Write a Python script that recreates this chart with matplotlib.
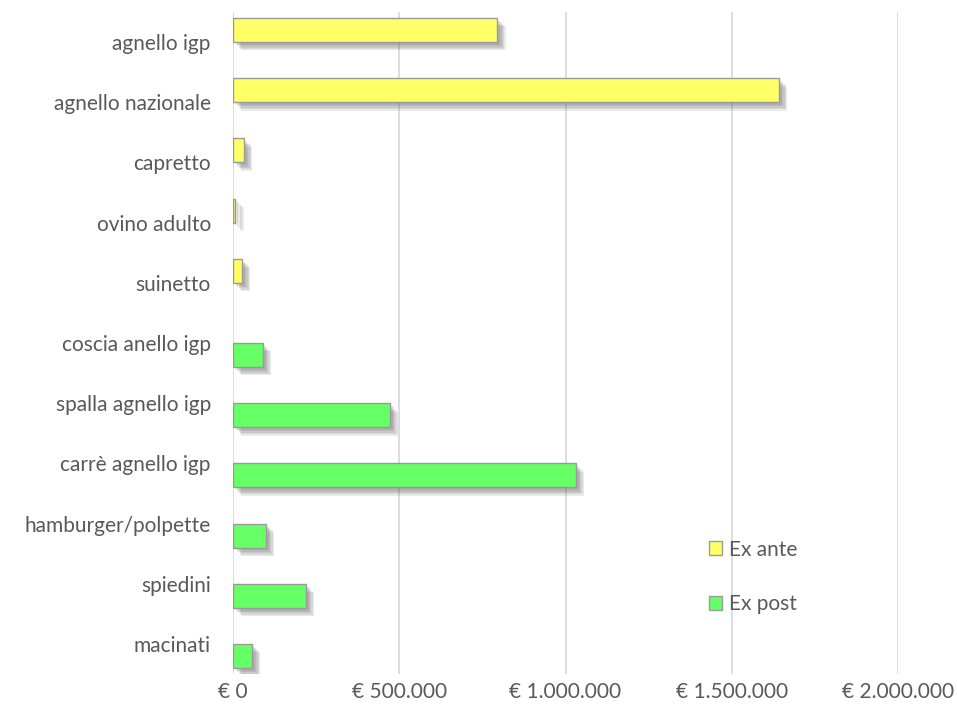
import numpy as np
import matplotlib
matplotlib.use("Agg")
import matplotlib.pyplot as plt
import matplotlib.patheffects as pe
from matplotlib.ticker import FuncFormatter

categories = ["agnello igp", "agnello nazionale", "capretto", "ovino adulto", "suinetto",
              "coscia anello igp", "spalla agnello igp", "carrè agnello igp",
              "hamburger/polpette", "spiedini", "macinati"]
ex_ante = [795000, 1642000, 33000, 7000, 27000, np.nan, np.nan, np.nan, np.nan, np.nan, np.nan]
ex_post = [np.nan, np.nan, np.nan, np.nan, np.nan, 90000, 472000, 1031000, 99000, 219000, 57000]
series_names = ["Ex ante", "Ex post"]
xticks = [0, 500000, 1000000, 1500000, 2000000]

plt.rcParams['font.family'] = ['Lato', 'DejaVu Sans']
txt = "#595959"

fig = plt.figure(figsize=(9.57, 7.13), dpi=100)
ax = fig.add_axes([233/957, 1-674/713, (898-233)/957, (674-12)/713])

y = np.arange(len(categories))
h = 0.4
shadow = [pe.SimplePatchShadow(offset=(o, -o), shadow_rgbFace="#606060", alpha=0.13)
          for o in (2, 3, 4, 5, 6)] + [pe.Normal()]
b1 = ax.barh(y - h/2, np.nan_to_num(ex_ante), height=h, color="#FFFF66", edgecolor="#9a9a9a",
             linewidth=1, label=series_names[0], zorder=3)
b2 = ax.barh(y + h/2, np.nan_to_num(ex_post), height=h, color="#66FF66", edgecolor="#9a9a9a",
             linewidth=1, label=series_names[1], zorder=3)
for bars, vals in ((b1, ex_ante), (b2, ex_post)):
    for r, v in zip(bars, vals):
        if np.isnan(v):
            r.set_visible(False)
        else:
            r.set_path_effects(shadow)

ax.set_ylim(len(categories) - 0.5, -0.5)
ax.set_xlim(0, 2000000)
ax.set_yticks(y)
ax.set_yticklabels(categories, fontsize=15, color=txt)
ax.set_xticks(xticks)
ax.xaxis.set_major_formatter(FuncFormatter(lambda v, p: "€ " + f"{int(v):,}".replace(",", ".")))
ax.tick_params(axis='x', labelsize=15, labelcolor=txt, length=0, pad=6)
ax.tick_params(axis='y', length=0, pad=16)
for s in ax.spines.values():
    s.set_visible(False)
ax.grid(axis='x', color="#dddddd", linewidth=1.4, zorder=0)
ax.set_axisbelow(True)

leg = fig.legend(handles=[b1, b2], labels=series_names, loc="upper left",
                 bbox_to_anchor=(690/957, 1-521/713), frameon=False, fontsize=15,
                 handlelength=0.65, handleheight=0.65, handletextpad=0.3, labelspacing=1.65)
for t in leg.get_texts():
    t.set_color(txt)
for hd in leg.legend_handles:
    hd.set_path_effects([])
    hd.set_visible(True)

fig.savefig("out.png", dpi=100)
